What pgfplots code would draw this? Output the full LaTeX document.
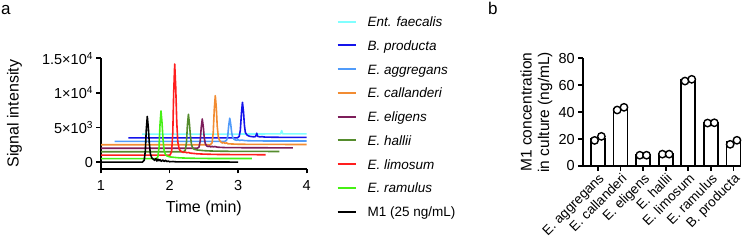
\documentclass[border=0pt]{standalone}
\usepackage{fontspec}
\setmainfont{Liberation Sans}
\usepackage{pgfplots}
\pgfplotsset{compat=1.18}

\definecolor{cFaec}{RGB}{128,255,255}
\definecolor{cProd}{RGB}{20,20,235}
\definecolor{cAggr}{RGB}{80,155,250}
\definecolor{cCall}{RGB}{242,140,50}
\definecolor{cElig}{RGB}{125,30,90}
\definecolor{cHall}{RGB}{85,140,45}
\definecolor{cLimo}{RGB}{255,30,30}
\definecolor{cRamu}{RGB}{70,240,20}

\newcommand{\lab}{\fontsize{16}{18}\selectfont}
\newcommand{\tck}{\fontsize{14.5}{16}\selectfont}

\pgfplotsset{
  prism/.style={
    scale only axis,
    axis x line=bottom, axis y line=left,
    axis line style={-, line width=1.8pt, black},
    tick style={line width=1.8pt, black},
    tick align=outside,
    major tick length=4.5pt,
    ticklabel style={font=\tck},
    scaled ticks=false,
  },
}

\begin{document}
\begin{tikzpicture}[x=1pt,y=1pt]
\path[use as bounding box] (0,0) rectangle (750,243);

\node[anchor=base west, font=\fontsize{17}{18}\selectfont, inner sep=0pt] at (1,228) {a};
\node[anchor=base west, font=\fontsize{17}{18}\selectfont, inner sep=0pt] at (488,228) {b};

% ---------------- chromatograms, offset per strain ----------------
\begin{axis}[prism,
  at={(101pt,74pt)}, anchor=south west,
  width=205.7pt, height=110.7pt,
  xmin=1, xmax=4, ymin=-1000, ymax=15000,
  xtick={1,2,3,4}, xticklabels={1,2,3,4},
  xticklabel style={yshift=-3pt},
  ytick={0,5000,10000,15000},
  yticklabels={0, 5×10\textsuperscript{3}, 1×10\textsuperscript{4}, 1.5×10\textsuperscript{4}},
  xlabel={Time (min)}, ylabel={Signal intensity},
  xlabel style={font=\lab, at={(axis description cs:0.5,-0.355)}, anchor=center},
  ylabel style={font=\lab, at={(axis description cs:-0.42,0.5)}, anchor=center},
  legend image code/.code={\draw[#1, line width=2pt] (0pt,4.8pt) -- (18pt,4.8pt);},
  legend style={draw=none, fill=none, at={(axis description cs:1.1458,1.3776)}, anchor=north west,
    inner sep=0pt, outer sep=0pt, row sep=10.75pt, column sep=11pt,
    font=\fontsize{13.5}{15}\selectfont,
    nodes={anchor=base west, inner sep=0pt, text height=10pt, text depth=3pt}},
  every axis plot/.append style={line width=1.6pt, line join=round},
]
% Ent. faecalis
\addplot[color=cFaec] coordinates {
 (1.6,4050) (3.0,4050) (3.2,4060) (3.55,4070) (3.62,4080) (3.635,4550) (3.65,4090)
 (3.7,4070) (4.0,4070)};
\addlegendentry{\textit{Ent. faecalis}}
% B. producta
\addplot[color=cProd] coordinates {
 (1.4,3500) (2.99,3500) (3.015,3700) (3.032,4600) (3.048,7000) (3.063,8640) (3.078,7300)
 (3.092,5300) (3.105,4300) (3.125,3950) (3.15,3800) (3.17,3720) (3.2,3680) (3.23,3650)
 (3.255,3700) (3.265,3950) (3.272,4170) (3.28,3850) (3.29,3700) (3.32,3640) (3.35,3680)
 (3.38,3620) (3.45,3600) (3.6,3580) (4.0,3560)};
\addlegendentry{\textit{B. producta}}
% E. aggregans
\addplot[color=cAggr] coordinates {
 (1.2,3000) (2.805,3000) (2.83,3130) (2.847,3650) (2.863,5300) (2.878,6330) (2.893,5400)
 (2.905,4300) (2.92,3600) (2.94,3300) (2.96,3200) (2.98,3150) (3.0,3250) (3.02,3120)
 (3.05,3180) (3.1,3100) (3.2,3070) (3.4,3050) (4.0,3040)};
\addlegendentry{\textit{E. aggregans}}
% E. callanderi
\addplot[color=cCall] coordinates {
 (1.0,2500) (2.595,2500) (2.62,2780) (2.637,4300) (2.652,7600) (2.667,9600) (2.682,7800)
 (2.695,5200) (2.71,3700) (2.73,3100) (2.75,2900) (2.77,2750) (2.79,2850) (2.81,2700)
 (2.83,2780) (2.85,2650) (2.9,2620) (3.0,2580) (3.2,2560) (4.0,2540)};
\addlegendentry{\textit{E. callanderi}}
% E. eligens
\addplot[color=cElig] coordinates {
 (1.0,2000) (2.405,2000) (2.43,2170) (2.447,3050) (2.462,5000) (2.477,6230) (2.492,5100)
 (2.505,3600) (2.52,2700) (2.54,2350) (2.56,2250) (2.58,2300) (2.6,2200) (2.62,2280)
 (2.64,2180) (2.66,2250) (2.7,2150) (2.8,2100) (3.0,2080) (3.8,2050)};
\addlegendentry{\textit{E. eligens}}
% E. hallii
\addplot[color=cHall] coordinates {
 (1.0,1500) (2.205,1500) (2.23,1720) (2.247,2850) (2.26,5300) (2.275,6910) (2.29,5500)
 (2.305,3700) (2.32,2500) (2.34,2000) (2.36,1850) (2.4,1750) (2.45,1700) (2.5,1650)
 (2.6,1600) (2.8,1560) (3.6,1530)};
\addlegendentry{\textit{E. hallii}}
% E. limosum
\addplot[color=cLimo] coordinates {
 (1.0,1000) (2.005,1000) (2.03,1500) (2.047,4200) (2.06,10000) (2.075,14170) (2.09,10800)
 (2.105,5800) (2.12,2900) (2.14,1900) (2.16,1600) (2.18,1500) (2.2,1400) (2.23,1450)
 (2.25,1350) (2.28,1380) (2.3,1300) (2.35,1250) (2.4,1200) (2.5,1150) (2.7,1100)
 (3.0,1080) (3.4,1060)};
\addlegendentry{\textit{E. limosum}}
% E. ramulus
\addplot[color=cRamu] coordinates {
 (1.0,500) (1.805,500) (1.83,780) (1.847,2200) (1.86,5300) (1.875,7390) (1.89,5700)
 (1.905,3200) (1.92,1700) (1.94,1100) (1.96,900) (1.98,820) (2.0,760) (2.03,720)
 (2.06,690) (2.1,650) (2.15,610) (2.25,570) (2.4,540) (2.6,520) (3.2,510)};
\addlegendentry{\textit{E. ramulus}}
% M1 standard
\addplot[color=black] coordinates {
 (1.0,0) (1.605,0) (1.63,250) (1.647,1650) (1.66,4600) (1.675,6600) (1.69,5000)
 (1.705,2700) (1.72,1200) (1.74,600) (1.76,450) (1.78,250) (1.80,500) (1.815,150)
 (1.83,420) (1.845,200) (1.86,350) (1.88,120) (1.90,300) (1.92,100) (1.94,250)
 (1.96,80) (1.98,150) (2.0,50) (2.05,80) (2.1,30) (2.2,40) (2.4,20) (3.0,0)};
\addlegendentry{M1 (25 ng/mL)}
\end{axis}

% ---------------- M1 concentration in culture ----------------
\begin{axis}[prism,
  at={(583.3pt,77pt)}, anchor=south west,
  width=157.7pt, height=107.7pt,
  xmin=-0.65, xmax=6.33, ymin=0, ymax=80,
  clip=false,
  major tick length=5pt,
  xtick={0,...,6},
  xticklabels={E. aggregans, E. callanderi, E. eligens, E. hallii, E. limosum, E. ramulus, B. producta},
  xticklabel style={rotate=45, anchor=north east, inner sep=1pt, font=\fontsize{13.5}{15}\selectfont},
  ytick={0,20,40,60,80}, yticklabels={0,20,40,60,80},
  ylabel={M1 concentration\\in culture (ng/mL)},
  ylabel style={font=\fontsize{15.5}{17.5}\selectfont, align=center,
    at={(axis description cs:-0.297,0.5)}, anchor=center},
]
\addplot[ybar, bar width=14pt, bar shift=0pt, fill=white, draw=black, line width=1.8pt]
  coordinates {(0,20.5) (1,42.6) (2,8.0) (3,8.8) (4,63.75) (5,32.0) (6,17.6)};
\addplot[only marks, mark=*, mark size=3.7pt,
  mark options={fill=white, draw=black, line width=1.4pt}]
  coordinates {(-0.15,19.0) (0.15,22.0) (0.85,41.6) (1.15,43.6) (1.85,8.0) (2.15,8.0)
   (2.85,8.8) (3.15,8.8) (3.85,63.1) (4.15,64.4) (4.85,31.9) (5.15,32.1)
   (5.85,16.1) (6.15,19.1)};
\end{axis}
\end{tikzpicture}
\end{document}
